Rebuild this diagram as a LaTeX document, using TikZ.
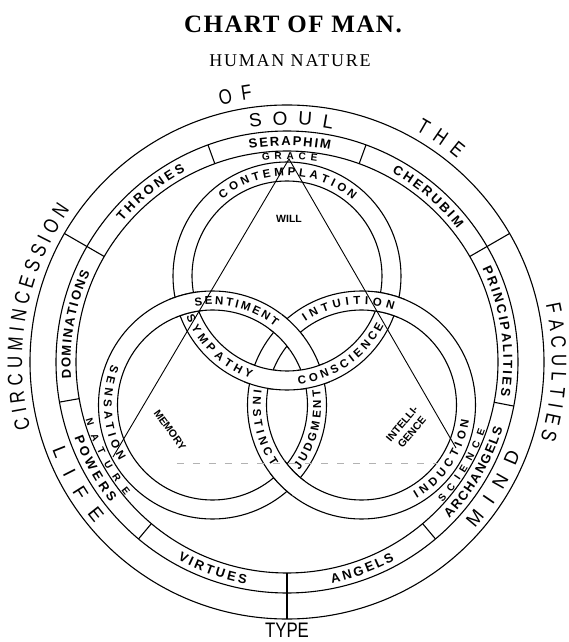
\documentclass[tikz,border=0pt]{standalone}
\usepackage{fontspec}
\setsansfont{Liberation Sans}
\newfontfamily\chartserif{Liberation Serif}
\newfontfamily\narrowsans[FakeStretch=0.8]{Liberation Sans}
\usetikzlibrary{decorations.text}

% fonts of the chart
\newcommand\bigword{\narrowsans\fontsize{21}{21}\selectfont}
\newcommand\realmfont{\sffamily\fontsize{19}{19}\selectfont}
\newcommand\orderfont{\sffamily\bfseries\fontsize{13}{13}\selectfont}
\newcommand\bandfont{\sffamily\bfseries\fontsize{11.5}{12}\selectfont}
\newcommand\gapfont{\sffamily\bfseries\fontsize{10}{10}\selectfont}

% text set on an arc: centre, radius, from, to, font, text
\newcommand\arctext[6]{%
  \path[decorate,decoration={text along path,text align={fit to path},
    text={|#5|#6}}] (#1) ++(#3:#2) arc[start angle=#3,end angle=#4,radius=#2];}

% one of the three faculty rings
\newcommand\ringband[1]{%
  \fill[white,even odd rule] (#1) circle (114) (#1) circle (95);
  \draw[ringline] (#1) circle (114) (#1) circle (95);}
\newcommand\willband{\ringband{will}
  \arctext{will}{100.4}{130}{49}{\bandfont}{CONTEMPLATION}
  \arctext{will}{108.6}{202}{250.5}{\bandfont}{SYMPATHY}
  \arctext{will}{108.6}{276}{333}{\bandfont}{CONSCIENCE}}
\newcommand\memband{\ringband{memory}
  \arctext{memory}{100.4}{100}{51.5}{\bandfont}{SENTIMENT}
  \arctext{memory}{108.6}{158}{211}{\bandfont}{SENSATION}
  \arctext{memory}{108.6}{-37}{8}{\bandfont}{JUDGMENT}}
\newcommand\intband{\ringband{intellect}
  \arctext{intellect}{100.4}{124}{71.5}{\bandfont}{INTUITION}
  \arctext{intellect}{108.6}{172}{214.5}{\bandfont}{INSTINCT}
  \arctext{intellect}{108.6}{-59.5}{-8}{\bandfont}{INDUCTION}}

\begin{document}
\begin{tikzpicture}[x=1pt,y=1pt,
  ringline/.style={line width=1.1pt},
  triline/.style={line width=0.9pt},
  faintline/.style={gray!60,line width=0.6pt,dash pattern=on 7pt off 9pt},
  labeltext/.style={font=\sffamily\bfseries\fontsize{10.5}{13}\selectfont,inner sep=0pt}]
\fill[white] (-287,-280) rectangle (281,362);
\useasboundingbox (-287,-280) rectangle (281,362);
\coordinate (O) at (0,0);
\coordinate (will) at (0,86);
\coordinate (memory) at (-74.5,-43);
\coordinate (intellect) at (74.5,-43);

% headings
\node (title) at (6,338)
  {\chartserif\bfseries\fontsize{25}{25}\selectfont\addfontfeature{LetterSpace=6}CHART OF MAN.};
\node (subtitle) at (3,301)
  {\chartserif\fontsize{18}{18}\selectfont\addfontfeature{LetterSpace=10}HUMAN NATURE};

% outer ring
\draw[ringline] (O) circle (257) (O) circle (231) (O) circle (211);
\foreach \a in {30,150,270} \draw[ringline] (\a:211) -- (\a:257);
\foreach \a in {70,110,190,230,310,349} \draw[ringline] (\a:211) -- (\a:231);

\arctext{O}{265}{194.5}{145}{\bigword}{CIRCUMINCESSION}
\arctext{O}{265}{104.5}{97.5}{\bigword}{OF}
\arctext{O}{265}{61}{50}{\bigword}{THE}
\arctext{O}{265}{12.5}{-17}{\bigword}{FACULTIES}
\node[font=\bigword,inner sep=0pt] (type) at (0,-268) {TYPE};

\arctext{O}{237.2}{99}{79}{\realmfont}{SOUL}
\arctext{O}{250.8}{200.5}{220}{\realmfont}{LIFE}
\arctext{O}{250.8}{-41.5}{-21.5}{\realmfont}{MIND}

\arctext{O}{216.4}{100}{78.5}{\orderfont}{SERAPHIM}
\arctext{O}{216.4}{139.5}{118}{\orderfont}{THRONES}
\arctext{O}{216.4}{61}{38}{\orderfont}{CHERUBIM}
\arctext{O}{216.4}{184.5}{155.5}{\orderfont}{DOMINATIONS}
\arctext{O}{225.6}{199.5}{218.5}{\orderfont}{POWERS}
\arctext{O}{225.6}{241}{259.5}{\orderfont}{VIRTUES}
\arctext{O}{225.6}{281.5}{298.5}{\orderfont}{ANGELS}
\arctext{O}{225.6}{-44}{-17}{\orderfont}{ARCHANGELS}
\arctext{O}{216.4}{25.5}{-9}{\orderfont}{PRINCIPALITIES}

\arctext{O}{202.5}{97}{81.5}{\gapfont}{GRACE}
\arctext{O}{209.5}{196}{219.5}{\gapfont}{NATURE}
\arctext{O}{209.5}{-42}{-19}{\gapfont}{SCIENCE}

% the three interlaced rings
\coordinate (xwl) at (-100.7,58.2);
\coordinate (xwr) at (100.7,58.2);
\coordinate (xlw) at (26.2,-15.2);
\coordinate (xrw) at (-26.2,-15.2);
\coordinate (xtop) at (0,30.3);
\coordinate (xbot) at (0,-116.3);
\willband
\memband
\intband
\begin{scope} \clip (xwl) circle (18); \memband \end{scope}
\begin{scope} \clip (xwr) circle (18); \intband \end{scope}
\begin{scope} \clip (xlw) circle (18); \willband \end{scope}
\begin{scope} \clip (xrw) circle (18); \willband \end{scope}
\begin{scope} \clip (xtop) circle (18); \memband \end{scope}
\begin{scope} \clip (xbot) circle (18); \intband \end{scope}

% triangle
\coordinate (apex) at (2,203);
\coordinate (lfoot) at (-174,-95);
\coordinate (rfoot) at (169,-86);
\coordinate (lbase) at (-110,-101);
\coordinate (rbase) at (150,-101);
\draw[triline] (lfoot) -- (apex) -- (rfoot);
\draw[faintline] (lbase) -- (rbase);

\node[labeltext] (willtext) at (2,143) {WILL};
\node[labeltext,rotate=-54] (memtext) at (-117,-68) {MEMORY};
\node[labeltext,rotate=50,align=center] (inttext) at (120,-66) {INTELLI-\\GENCE};
\end{tikzpicture}
\end{document}
